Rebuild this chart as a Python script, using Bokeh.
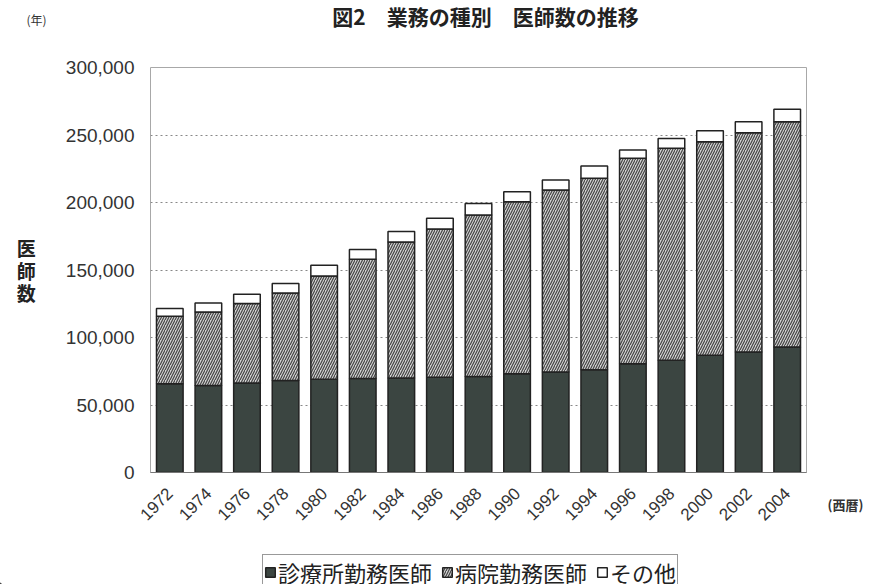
from bokeh.plotting import figure
from bokeh.layouts import column, row
from bokeh.models import (ColumnDataSource, FactorRange, Range1d, FixedTicker,
                          NumeralTickFormatter, Label, Legend, LegendItem)
from bokeh.core.properties import value
from bokeh.embed import file_html
from bokeh.resources import INLINE
from math import pi

# Physicians by type of practice, 1972-2004 (persons)
years = ["1972", "1974", "1976", "1978", "1980", "1982", "1984", "1986", "1988",
         "1990", "1992", "1994", "1996", "1998", "2000", "2002", "2004"]
clinic = [65800, 64500, 66300, 68200, 69000, 69700, 70000, 70500, 71200,
          73200, 74400, 76200, 80600, 83100, 86800, 89200, 93000]
hospital = [50000, 54400, 58900, 64800, 76600, 88300, 100800, 109800, 119500,
            127300, 134800, 141700, 152100, 157000, 158200, 162500, 166900]
other = [5600, 6700, 6800, 7000, 7900, 7200, 7800, 8100, 8600,
         7400, 7400, 9100, 6200, 7400, 8200, 8200, 9200]
series_names = ["診療所勤務医師", "病院勤務医師", "その他"]
y_ticks = [0, 50000, 100000, 150000, 200000, 250000, 300000]

title_text = "図2　業務の種別　医師数の推移"
y_title = "医\n師\n数"
year_unit = "(年)"
x_unit = "(西暦)"

JP = "Noto Sans CJK JP"
NUM = "Liberation Sans"

# one style per stacked series: clinic (solid), hospital (hatched), other (white)
fills = ["#3b4541", "#d2d2d2", "#ffffff"]
hatches = [" ", "/", " "]
bar_style = dict(hatch_color="#444444", hatch_scale=5, hatch_weight=1.2,
                 line_color="#222222", line_width=1.5)


def blank(w, h):
    # text-only strip: the frame is the whole strip and data units equal pixels
    f = figure(width=w, height=h, frame_width=w, frame_height=h,
               x_range=Range1d(0, w), y_range=Range1d(0, h),
               x_axis_type=None, y_axis_type=None, title=None, min_border=0,
               outline_line_color=None, toolbar_location=None, output_backend="svg")
    f.xgrid.visible = False
    f.ygrid.visible = False
    return f


def text(f, s, x, y, size, bold=False, align="center", baseline="middle",
         color="#222222", font=JP):
    f.add_layout(Label(x=x, y=y, text=s, text_font=font, text_font_size=size,
                       text_font_style="bold" if bold else "normal",
                       text_align=align, text_baseline=baseline, text_color=color))


# ---- heading strip ----
top = blank(872, 30)
text(top, title_text, 485, 15, "21px", bold=True)
text(top, year_unit, 36, 11, "12px", color="#333333")

# ---- main chart ----
source = ColumnDataSource(dict(year=years, clinic=clinic, hospital=hospital, other=other))

p = figure(width=815, height=524, output_backend="svg", toolbar_location=None,
           x_range=FactorRange(*years), y_range=Range1d(0, 300000),
           min_border_left=150, min_border_right=9, min_border_top=37,
           min_border_bottom=82)

p.vbar_stack(["clinic", "hospital", "other"], x="year", width=0.69, source=source,
             fill_color=fills, hatch_pattern=hatches, **bar_style)

p.outline_line_color = "#a8a8a8"
p.outline_line_width = 1
p.xgrid.grid_line_color = None
p.ygrid.grid_line_color = "#888888"
p.ygrid.grid_line_dash = "2 3"
p.ygrid.grid_line_width = 1

p.yaxis.ticker = FixedTicker(ticks=y_ticks)
p.yaxis.formatter = NumeralTickFormatter(format="0,0")
p.yaxis.axis_line_color = None
p.yaxis.major_tick_line_color = None
p.yaxis.minor_tick_line_color = None
p.yaxis.major_label_text_font = NUM
p.yaxis.major_label_text_font_size = "19px"
p.yaxis.major_label_text_color = "#333333"
p.yaxis.major_label_standoff = 10
p.yaxis.axis_label = y_title
p.yaxis.axis_label_orientation = "horizontal"
p.yaxis.axis_label_text_font = JP
p.yaxis.axis_label_text_font_size = "19px"
p.yaxis.axis_label_text_font_style = "bold"
p.yaxis.axis_label_text_color = "#222222"
p.yaxis.axis_label_text_line_height = 0.83
p.yaxis.axis_label_standoff = 27

p.xaxis.axis_line_color = "#777777"
p.xaxis.major_tick_line_color = None
p.xaxis.minor_tick_line_color = None
p.xaxis.major_label_orientation = pi / 4
p.xaxis.major_label_text_font = NUM
p.xaxis.major_label_text_font_size = "17px"
p.xaxis.major_label_text_color = "#333333"
p.xaxis.major_label_standoff = 12

# ---- unit note to the right of the x axis ----
side = blank(57, 524)
text(side, x_unit, 30, 87, "13px", bold=True, color="#333333")

# ---- legend strip ----
leg_fig = blank(872, 30)
items = []
for name, fc, hp in zip(series_names, fills, hatches):
    # legend swatch only; its single point lies outside the strip's ranges
    r = leg_fig.vbar(x=[-100.0], top=[1.0], width=1, fill_color=fc, hatch_pattern=hp,
                     **bar_style)
    items.append(LegendItem(label=value(name), renderers=[r]))
legend = Legend(items=items, orientation="horizontal", location=(262, -6),
                label_text_font=JP, label_text_font_size="22px",
                label_text_color="#222222", glyph_width=12, glyph_height=12,
                label_standoff=2, spacing=9, padding=1, margin=0,
                border_line_color="#333333", border_line_width=1,
                background_fill_color="#ffffff", background_fill_alpha=1.0)
leg_fig.add_layout(legend)

page = column(top, row(p, side), leg_fig)
open("out.html", "w").write(file_html(page, INLINE))
